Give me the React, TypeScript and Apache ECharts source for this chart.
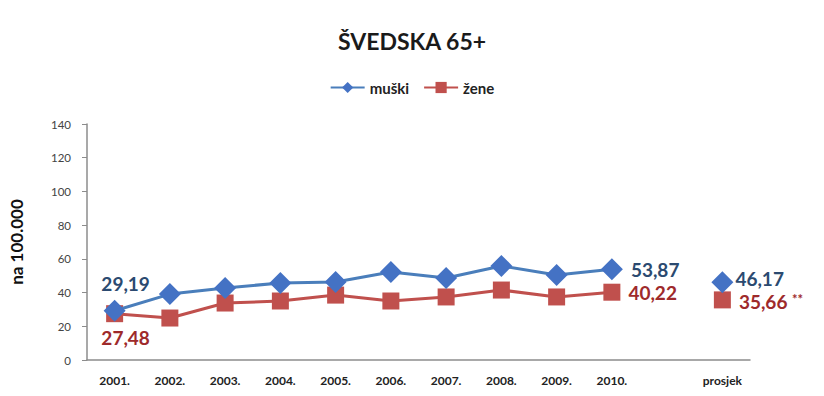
import React, { useEffect, useRef } from "react";
import * as echarts from "echarts";

const categories = ["2001.", "2002.", "2003.", "2004.", "2005.", "2006.", "2007.", "2008.", "2009.", "2010.", "", "prosjek"];
const muski = [29.19, 39.1, 42.7, 45.7, 46.3, 52.2, 48.6, 55.8, 50.4, 53.87, null, 46.17];
const zene = [27.48, 24.9, 33.8, 35.0, 38.5, 35.0, 37.4, 41.5, 37.4, 40.22, null, 35.66];
const yTicks = { min: 0, max: 140, interval: 20 };

const fmt = (v: number) => v.toFixed(2).replace(".", ",");

const BLUE = "#4A7EBB";
const BLUE_MARK = "#4472C4";
const BLUE_TXT = "#2B4A70";
const RED = "#C0504D";
const RED_MARK = "#C0504D";
const RED_TXT = "#9E2A2B";
const FONT = "Lato, 'Open Sans', sans-serif";

export default function App() {
  const ref = useRef<HTMLDivElement>(null);
  useEffect(() => {
    if (!ref.current) return;
    const chart = echarts.init(ref.current, null, { renderer: "svg" });
    const labelBase = { show: true, fontFamily: FONT, fontSize: 19, fontWeight: "bold" as const };
    const muskiData = muski.map((v, i) => {
      if (v === null) return null;
      if (i === 0) return { value: v, label: { ...labelBase, color: BLUE_TXT, position: "top", offset: [11, -2], formatter: fmt(v) } };
      if (i === 9) return { value: v, label: { ...labelBase, color: BLUE_TXT, position: "right", distance: 8, formatter: fmt(v) } };
      if (i === 11) return { value: v, label: { ...labelBase, color: BLUE_TXT, position: "right", distance: 2, offset: [0, -4], formatter: fmt(v) } };
      return v;
    });
    const zeneData = zene.map((v, i) => {
      if (v === null) return null;
      if (i === 0) return { value: v, label: { ...labelBase, color: RED_TXT, position: "bottom", distance: 6, offset: [11, 0], formatter: fmt(v) } };
      if (i === 9) return { value: v, label: { ...labelBase, color: RED_TXT, position: "right", distance: 8, formatter: fmt(v) } };
      if (i === 11)
        return {
          value: v,
          label: {
            ...labelBase,
            color: RED_TXT,
            position: "right",
            distance: 8,
            offset: [0, 2],
            formatter: fmt(v) + " {s|**}",
            rich: { s: { fontSize: 13, fontWeight: "bold", color: RED_TXT, verticalAlign: "top", fontFamily: FONT } },
          },
        };
      return v;
    });
    chart.setOption({
      animation: false,
      backgroundColor: "#ffffff",
      title: {
        text: "ŠVEDSKA 65+",
        left: "center",
        top: 24,
        textStyle: { fontFamily: FONT, fontSize: 23, fontWeight: "bold", color: "#1a1a1a" },
      },
      legend: {
        top: 75,
        left: "center",
        itemWidth: 34,
        itemHeight: 14,
        itemGap: 14,
        textStyle: { fontFamily: FONT, fontSize: 15, fontWeight: "bold", color: "#222" },
        data: ["muški", "žene"],
      },
      grid: { left: 87, right: 74, top: 124, bottom: 36 },
      xAxis: {
        type: "category",
        data: categories,
        boundaryGap: true,
        axisLine: { lineStyle: { color: "#8c8c8c", width: 1.5 } },
        axisTick: { show: false },
        axisLabel: { fontFamily: FONT, fontSize: 12, fontWeight: "bold", color: "#222", margin: 14, interval: 0 },
      },
      yAxis: {
        type: "value",
        min: yTicks.min,
        max: yTicks.max,
        interval: yTicks.interval,
        name: "na 100.000",
        nameLocation: "middle",
        nameGap: 62,
        nameRotate: 90,
        nameTextStyle: { fontFamily: FONT, fontSize: 17, fontWeight: "bold", color: "#111" },
        splitLine: { show: false },
        axisLine: { show: true, lineStyle: { color: "#8c8c8c", width: 1.5 } },
        axisTick: { show: true, length: 5, lineStyle: { color: "#8c8c8c" } },
        axisLabel: { fontFamily: FONT, fontSize: 11.5, color: "#444", margin: 16 },
      },
      series: [
        {
          name: "muški",
          type: "line",
          data: muskiData,
          connectNulls: false,
          symbol: "diamond",
          symbolSize: 22,
          lineStyle: { color: BLUE, width: 3 },
          itemStyle: { color: BLUE_MARK },
          z: 3,
        },
        {
          name: "žene",
          type: "line",
          data: zeneData,
          connectNulls: false,
          symbol: "rect",
          symbolSize: 17,
          lineStyle: { color: RED, width: 3 },
          itemStyle: { color: RED_MARK },
          z: 2,
        },
      ],
    });
    return () => chart.dispose();
  }, []);
  return <div ref={ref} style={{ width: 824, height: 396, position: "absolute", left: 0, top: 0 }} />;
}
